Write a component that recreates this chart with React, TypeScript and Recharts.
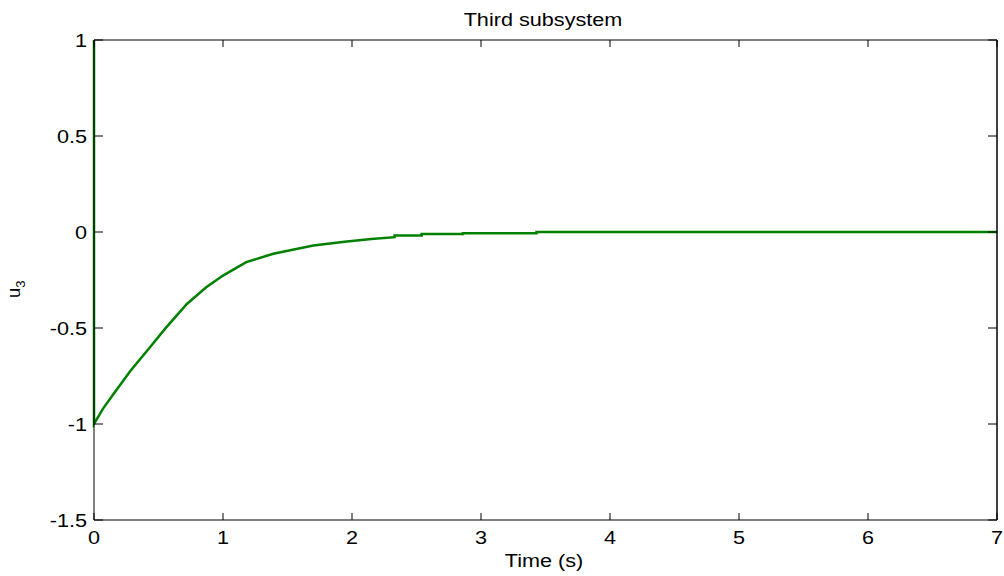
import React from 'react';
import { LineChart, Line, XAxis, YAxis } from 'recharts';

// u3 response of the third subsystem
const timeS = [0, 0, 0.07, 0.15, 0.28, 0.41, 0.56, 0.72, 0.87, 1.0, 1.18, 1.39, 1.7, 1.96, 2.15, 2.33, 2.33, 2.54, 2.54, 2.86, 2.86, 3.43, 3.43, 7];
const u3 = [1, -1, -0.92, -0.845, -0.725, -0.62, -0.497, -0.375, -0.288, -0.227, -0.157, -0.113, -0.07, -0.05, -0.037, -0.027, -0.018, -0.018, -0.011, -0.011, -0.006, -0.006, 0, 0];

const xTicks = [0, 1, 2, 3, 4, 5, 6, 7];
const yTicks = [-1.5, -1, -0.5, 0, 0.5, 1];

const data = timeS.map((t, i) => ({ t, u: u3[i] }));

const FONT = '"Liberation Sans", Arial, sans-serif';
const FS = 18.5;
const SX = 1.17; // text is drawn slightly widened
const X_TICK_LEN = 7;
const Y_TICK_LEN = 9;

function Txt({ x, y, anchor, children, size = FS }: any) {
  return (
    <text
      transform={`translate(${x},${y}) scale(${SX},1)`}
      textAnchor={anchor}
      fontSize={size}
      fontFamily={FONT}
      fill="#000"
    >
      {children}
    </text>
  );
}

// bottom axis: label below, inward tick above the axis line
function BottomTick(props: any) {
  const { x, y, payload } = props;
  const axisY = y - 10;
  return (
    <g>
      <line x1={x} x2={x} y1={axisY} y2={axisY - X_TICK_LEN} stroke="#000" />
      <Txt x={x} y={axisY + 24} anchor="middle">{payload.value}</Txt>
    </g>
  );
}

function LeftTick(props: any) {
  const { x, y, payload } = props;
  const axisX = x + 7;
  return (
    <g>
      <line x1={axisX} x2={axisX + Y_TICK_LEN} y1={y} y2={y} stroke="#000" />
      <Txt x={x} y={y + 6.5} anchor="end">{payload.value}</Txt>
    </g>
  );
}

function TopTick(props: any) {
  const { x, y } = props;
  return <line x1={x} x2={x} y1={y} y2={y + X_TICK_LEN} stroke="#000" />;
}

function RightTick(props: any) {
  const { x, y } = props;
  return <line x1={x} x2={x - Y_TICK_LEN} y1={y} y2={y} stroke="#000" />;
}

export default function App() {
  return (
    <div style={{ position: 'absolute', left: 0, top: 0, width: 1004, height: 576, background: '#fff' }}>
      <LineChart
        width={1004}
        height={576}
        data={data}
        margin={{ top: 39, right: 6, bottom: 0, left: 0 }}
      >
        <XAxis
          dataKey="t"
          type="number"
          domain={[0, 7]}
          ticks={xTicks}
          height={56}
          tickSize={0}
          tickMargin={10}
          tickLine={false}
          axisLine={{ stroke: '#000' }}
          tick={<BottomTick />}
          interval={0}
        />
        <XAxis
          xAxisId="top"
          orientation="top"
          dataKey="t"
          type="number"
          domain={[0, 7]}
          ticks={xTicks}
          height={1}
          tickSize={0}
          tickMargin={0}
          tickLine={false}
          axisLine={{ stroke: '#000' }}
          tick={<TopTick />}
          interval={0}
        />
        <YAxis
          type="number"
          domain={[-1.5, 1]}
          ticks={yTicks}
          width={94}
          tickSize={0}
          tickMargin={7}
          tickLine={false}
          axisLine={{ stroke: '#000' }}
          tick={<LeftTick />}
          interval={0}
        />
        <YAxis
          yAxisId="right"
          orientation="right"
          type="number"
          domain={[-1.5, 1]}
          ticks={yTicks}
          width={1}
          tickSize={0}
          tickMargin={0}
          tickLine={false}
          axisLine={{ stroke: '#000', strokeWidth: 1.5 }}
          tick={<RightTick />}
          interval={0}
        />
        {/* hidden series so the box axes on top/right get rendered */}
        <Line
          xAxisId="top"
          yAxisId="right"
          dataKey="u"
          stroke="none"
          dot={false}
          activeDot={false}
          isAnimationActive={false}
        />
        <Line
          dataKey="u"
          type="linear"
          stroke="#008000"
          strokeWidth={2.5}
          dot={false}
          isAnimationActive={false}
        />
        <Txt x={543} y={26} anchor="middle">Third subsystem</Txt>
        <Txt x={544} y={567} anchor="middle">Time (s)</Txt>
        <text transform="translate(20, 298) rotate(-90)" fontSize={FS} fontFamily={FONT} fill="#000">
          u<tspan dy={5} fontSize={13}>3</tspan>
        </text>
      </LineChart>
    </div>
  );
}
